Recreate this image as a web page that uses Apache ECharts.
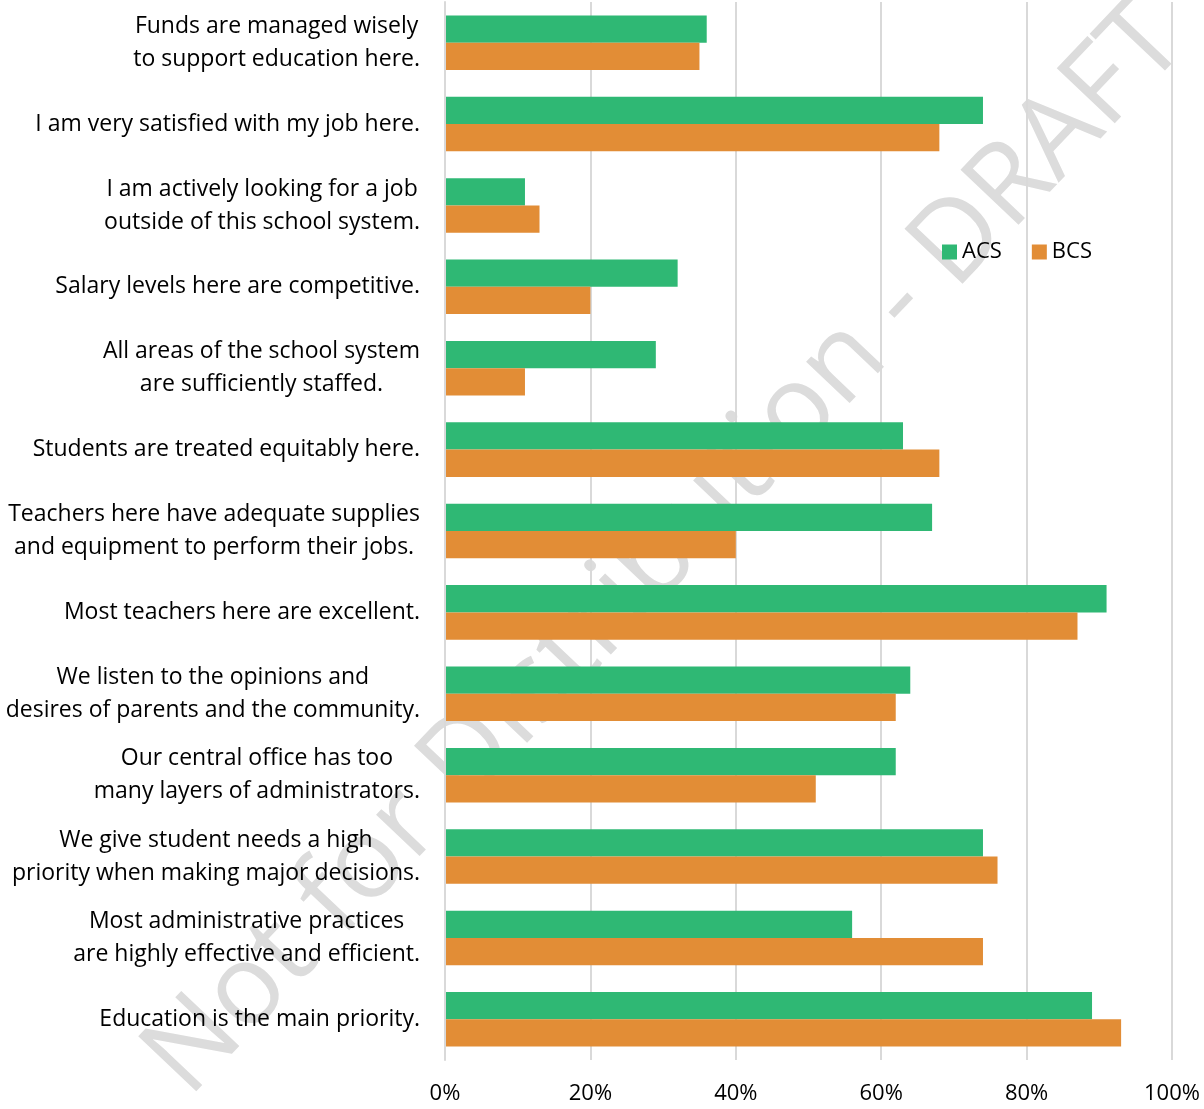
<!DOCTYPE html>
<html>
<head>
<meta charset="utf-8">
<script src="https://cdn.jsdelivr.net/npm/echarts@6/dist/echarts.min.js"></script>
<style>html,body{margin:0;padding:0;background:#fff}#c{width:1204px;height:1109px}</style>
</head>
<body>
<div id="c"></div>
<script>
const categories = [
  "Funds are managed wisely\nto support education here.",
  "I am very satisfied with my job here.",
  "I am actively looking for a job\noutside of this school system.",
  "Salary levels here are competitive.",
  "All areas of the school system\nare sufficiently staffed.",
  "Students are treated equitably here.",
  "Teachers here have adequate supplies\nand equipment to perform their jobs.",
  "Most teachers here are excellent.",
  "We listen to the opinions and\ndesires of parents and the community.",
  "Our central office has too\nmany layers of administrators.",
  "We give student needs a high\npriority when making major decisions.",
  "Most administrative practices\nare highly effective and efficient.",
  "Education is the main priority."
];
const acs = [36, 74, 11, 32, 29, 63, 67, 91, 64, 62, 74, 56, 89];
const bcs = [35, 68, 13, 20, 11, 68, 40, 87, 62, 51, 76, 74, 93];
const seriesNames = ["ACS", "BCS"];
const watermark = "Not for Distribution - DRAFT";

const FONT = "Open Sans";
const chart = echarts.init(document.getElementById('c'));
chart.setOption({
  animation: false,
  backgroundColor: '#fff',
  textStyle: { fontFamily: FONT },
  grid: { left: 445, right: 32, top: 2, bottom: 49, containLabel: false },
  legend: {
    data: seriesNames,
    left: 937, top: 236,
    itemWidth: 15, itemHeight: 15, itemGap: 30,
    icon: 'rect',
    textStyle: { fontFamily: FONT, fontSize: 22, color: '#000' }
  },
  graphic: {
    elements: [{
      type: 'text',
      z: -10,
      silent: true,
      x: 666, y: 550,
      rotation: 46.5 * Math.PI / 180,
      style: {
        text: watermark,
        fontFamily: FONT,
        fontSize: 112,
        fill: '#dcdcdc',
        align: 'center',
        verticalAlign: 'middle'
      }
    }]
  },
  xAxis: {
    type: 'value',
    min: 0, max: 100, interval: 20,
    axisLabel: {
      formatter: v => v + '%',
      fontFamily: FONT, fontSize: 22, color: '#000', margin: 23
    },
    axisLine: { show: false },
    axisTick: { show: false },
    splitLine: { show: true, lineStyle: { color: '#d9d9d9', width: 2 } }
  },
  yAxis: {
    type: 'category',
    inverse: true,
    data: categories,
    z: 5,
    axisLine: { show: true, lineStyle: { color: '#d9d9d9', width: 2 } },
    axisTick: { show: false },
    axisLabel: {
      margin: 25,
      align: 'right',
      formatter: v => v.split('\n').map(l => '{c|' + l + '}').join('\n'),
      rich: {
        c: { align: 'center', fontFamily: FONT, fontSize: 23, color: '#000', lineHeight: 33 }
      }
    }
  },
  series: [
    {
      name: seriesNames[0], type: 'bar', data: acs,
      itemStyle: { color: '#2FB874' },
      barGap: '0%', barCategoryGap: '33%', z: 2
    },
    {
      name: seriesNames[1], type: 'bar', data: bcs,
      itemStyle: { color: '#E28D36' },
      barGap: '0%', barCategoryGap: '33%', z: 2
    }
  ]
});
</script>
</body>
</html>
